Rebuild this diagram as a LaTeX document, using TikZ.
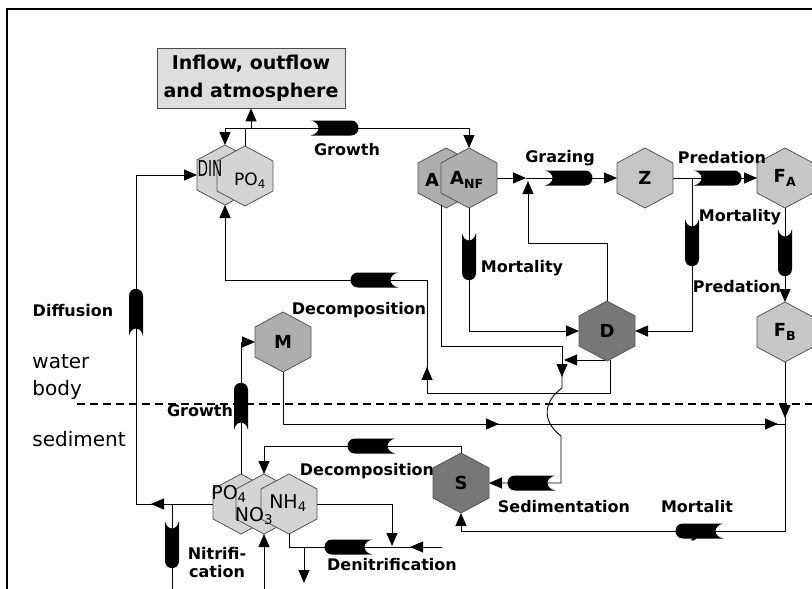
\documentclass[tikz,border=0pt]{standalone}
\usepackage{fontspec}
\setmainfont{DejaVu Sans}
\usetikzlibrary{arrows.meta,calc}
\definecolor{hexline}{HTML}{555555}
\definecolor{lite}{HTML}{D4D4D4}
\definecolor{midg}{HTML}{C6C6C6}
\definecolor{midd}{HTML}{AEAEAE}
\definecolor{darkg}{HTML}{777777}
\definecolor{boxfill}{HTML}{DEDEDE}
\tikzset{
  hexa/.style={minimum width=58pt,minimum height=62pt,inner sep=0pt,outer sep=-1pt,
    path picture={\path[draw=hexline,line width=0.8pt,fill=#1]
      ($(path picture bounding box.center)+(0pt,30pt)$) -- ++(28pt,-15pt) -- ++(0pt,-30pt)
      -- ++(-28pt,-15pt) -- ++(-28pt,15pt) -- ++(0pt,30pt) -- cycle;}},
  lab/.style={font=\bfseries\fontsize{16}{18}\selectfont,inner sep=0pt},
  hlab/.style={font=\bfseries\fontsize{18}{20}\selectfont},
  plab/.style={font=\fontsize{17}{19}\selectfont,inner sep=0pt},
  dlab/.style={font=\fontsize{22}{24}\selectfont,inner sep=0pt},
  slab/.style={font=\fontsize{19}{21}\selectfont,inner sep=0pt},
  region/.style={font=\fontsize{20}{22}\selectfont,inner sep=0pt,anchor=west},
  hvalve/.pic={\fill[black] (-24,-7.5) -- (16,-7.5) .. controls (26,-7.5) and (26,7.5) .. (16,7.5)
      -- (-24,7.5) .. controls (-14,5) and (-14,-5) .. cycle;},
  vvalve/.pic={\fill[black] (-7,-24) -- (-7,16) .. controls (-7,25.5) and (7,25.5) .. (7,16)
      -- (7,-24) .. controls (5,-14) and (-5,-14) .. cycle;}
}
\begin{document}
\begin{tikzpicture}[x=1pt,y=-1pt,>={Triangle[length=13pt,width=11pt]},line width=0.9pt]
\useasboundingbox (0,0) rectangle (812,589);
\draw[line width=1.8pt] (7,600) -- (7,9) -- (830,9);
\draw[dash pattern=on 8pt off 5pt,line width=1.3pt] (77,404) -- (812,404);

% box
\node[draw=black!70,line width=0.8pt,fill=boxfill,minimum width=188pt,minimum height=60pt,align=center,
  font=\bfseries\fontsize{19}{28}\selectfont] (box) at (251,78) {Inflow, outflow\\and atmosphere};

% hexagons
\node[hexa=lite] (DIN) at (225,175) {};
\node[hexa=lite] (PO4w) at (245,176) {};
\node[hexa=midd] (A) at (446,178) {};
\node[hexa=midd] (ANF) at (469,178) {};
\node[hexa=midg,hlab] (Z) at (645,178) {Z};
\node[hexa=midg,hlab] (FA) at (785,178) {F\textsubscript{A}};
\node[hexa=darkg,hlab] (D) at (607,331) {D};
\node[hexa=midg,hlab] (FB) at (785,332) {F\textsubscript{B}};
\node[hexa=midd,hlab] (M) at (283,342) {M};
\node[hexa=darkg,hlab] (S) at (461,483) {S};
\node[hexa=lite] (PO4s) at (241,504) {};
\node[hexa=lite] (NO3) at (264,504) {};
\node[hexa=lite] (NH4) at (289,504) {};

% labels inside overlapping hexagons
\node[dlab] (lDIN) at (210,168) {\scalebox{0.62}[1]{DIN}};
\node[plab] (lPO4w) at (250,181) {PO\textsubscript{4}};
\node[hlab,inner sep=0pt] (lA) at (432,180) {A};
\node[hlab,inner sep=0pt] (lANF) at (467,180) {A\textsubscript{NF}};
\node[slab] (lPO4s) at (229,494) {PO\textsubscript{4}};
\node[slab] (lNO3) at (254,516) {NO\textsubscript{3}};
\node[slab] (lNH4) at (288,503) {NH\textsubscript{4}};

% top growth line
\draw (PO4w.north) -- (245,128);
\draw (225,128) -- (469,128);
\draw[->] (225,128) -- (DIN.north);
\draw[->] (251,128) -- (box.south);
\draw[->] (469,128) -- (ANF.north);
\pic at (335,128) {hvalve};

% grazing
\draw[->] (ANF.east) -- (526,178);
\draw[->] (526,178) -- (Z.west);
\draw[->] (D.north) -- (607,243) -- (528,243) -- (528,181);
\pic at (569,178) {hvalve};

% predation Z -> FA
\draw[->] (Z.east) -- (FA.west);
\pic at (718,178) {hvalve};

% Z mortality -> D
\draw[->] (692,178) -- (692,331) -- (D.east);
\pic at (692,243) {vvalve};

% FA -> FB
\draw[->] (FA.south) -- (FB.north);
\pic at (785,253) {vvalve};

% ANF mortality -> D
\draw[->] (ANF.south) -- (469,331) -- (D.west);
\pic at (469,257) {vvalve};

% A and D to sediment
\draw[->] ($(A)+(-5,27)$) -- (441,346) -- (562,346) -- (562,377);
\draw[->] ($(D)+(-2,29)$) -- (564,360);
\draw[->] (562,374) -- (562,388) .. controls (545,400) and (540,420) .. (561,436) -- (561,483) -- (S.east);
\pic[xscale=-1] at (531,483) {hvalve};

% D decomposition back to DIN
\draw[->] ($(D)+(3,29)$) -- (610,393) -- (427,393) -- (427,367);
\draw[->] (427,370) -- (427,280) -- (225,280) -- (DIN.south);
\pic[xscale=-1] at (374,280) {hvalve};

% diffusion
\draw[->] (PO4s.west) -- (151,504);
\draw[->] (153,504) -- (136,504) -- (136,175) -- (DIN.west);
\pic[yscale=-1] at (136,312) {vvalve};

% nitrification
\draw (172,504) -- (172,600);
\pic at (172,545) {vvalve};
\draw[->] (264,600) -- (NO3.south);

% denitrification
\draw[->] (NH4.east) -- (392,504) -- (392,546);
\draw (NH4.south) -- (289,547) -- (415,547);
\draw[->] (442,547) -- (410,547);
\pic[xscale=-1] at (348,547) {hvalve};
\draw[->] (304,547) -- (304,583);

% sediment decomposition
\draw[->] (S.north) -- (461,446) -- (264,446) -- (NO3.north);
\pic[xscale=-1] at (371,446) {hvalve};

% sediment growth
\draw[->] (PO4s.north) -- (241,342) -- (M.west);
\pic[yscale=-1] at (241,406) {vvalve};

% M and FB along the bottom
\draw[->] (M.south) -- (283,424) -- (499,424);
\draw[->] (495,424) -- (778,424);
\draw (776,424) -- (785,424);
\draw[->] (FB.south) -- (785,418);
\draw[->] (785,416) -- (785,531) -- (461,531) -- (S.south);
\node[lab] (ly) at (695,535) {y};
\pic[xscale=-1] at (699,531) {hvalve};

% flow labels
\node[lab] (tGrowth1) at (347,150) {Growth};
\node[lab] (tGrazing) at (560,158) {Grazing};
\node[lab] (tPred1) at (722,158) {Predation};
\node[lab] (tMort1) at (522,268) {Mortality};
\node[lab] (tMort2) at (740,217) {Mortality};
\node[lab] (tPred2) at (737,287) {Predation};
\node[lab] (tDiff) at (73,311) {Diffusion};
\node[lab] (tDec1) at (359,310) {Decomposition};
\node[lab] (tGrowth2) at (200,411) {Growth};
\node[lab] (tDec2) at (367,471) {Decomposition};
\node[lab] (tSed) at (564,507) {Sedimentation};
\node[lab] (tMort3) at (697,507) {Mortalit};
\node[lab,align=center] (tNitr) at (217,563) {Nitrifi-\\cation};
\node[lab] (tDenit) at (392,565) {Denitrification};

% region labels
\node[region] (tw) at (32,362) {water};
\node[region] (tb) at (32,390) {body};
\node[region] (ts) at (32,439) {sediment};
\end{tikzpicture}
\end{document}
